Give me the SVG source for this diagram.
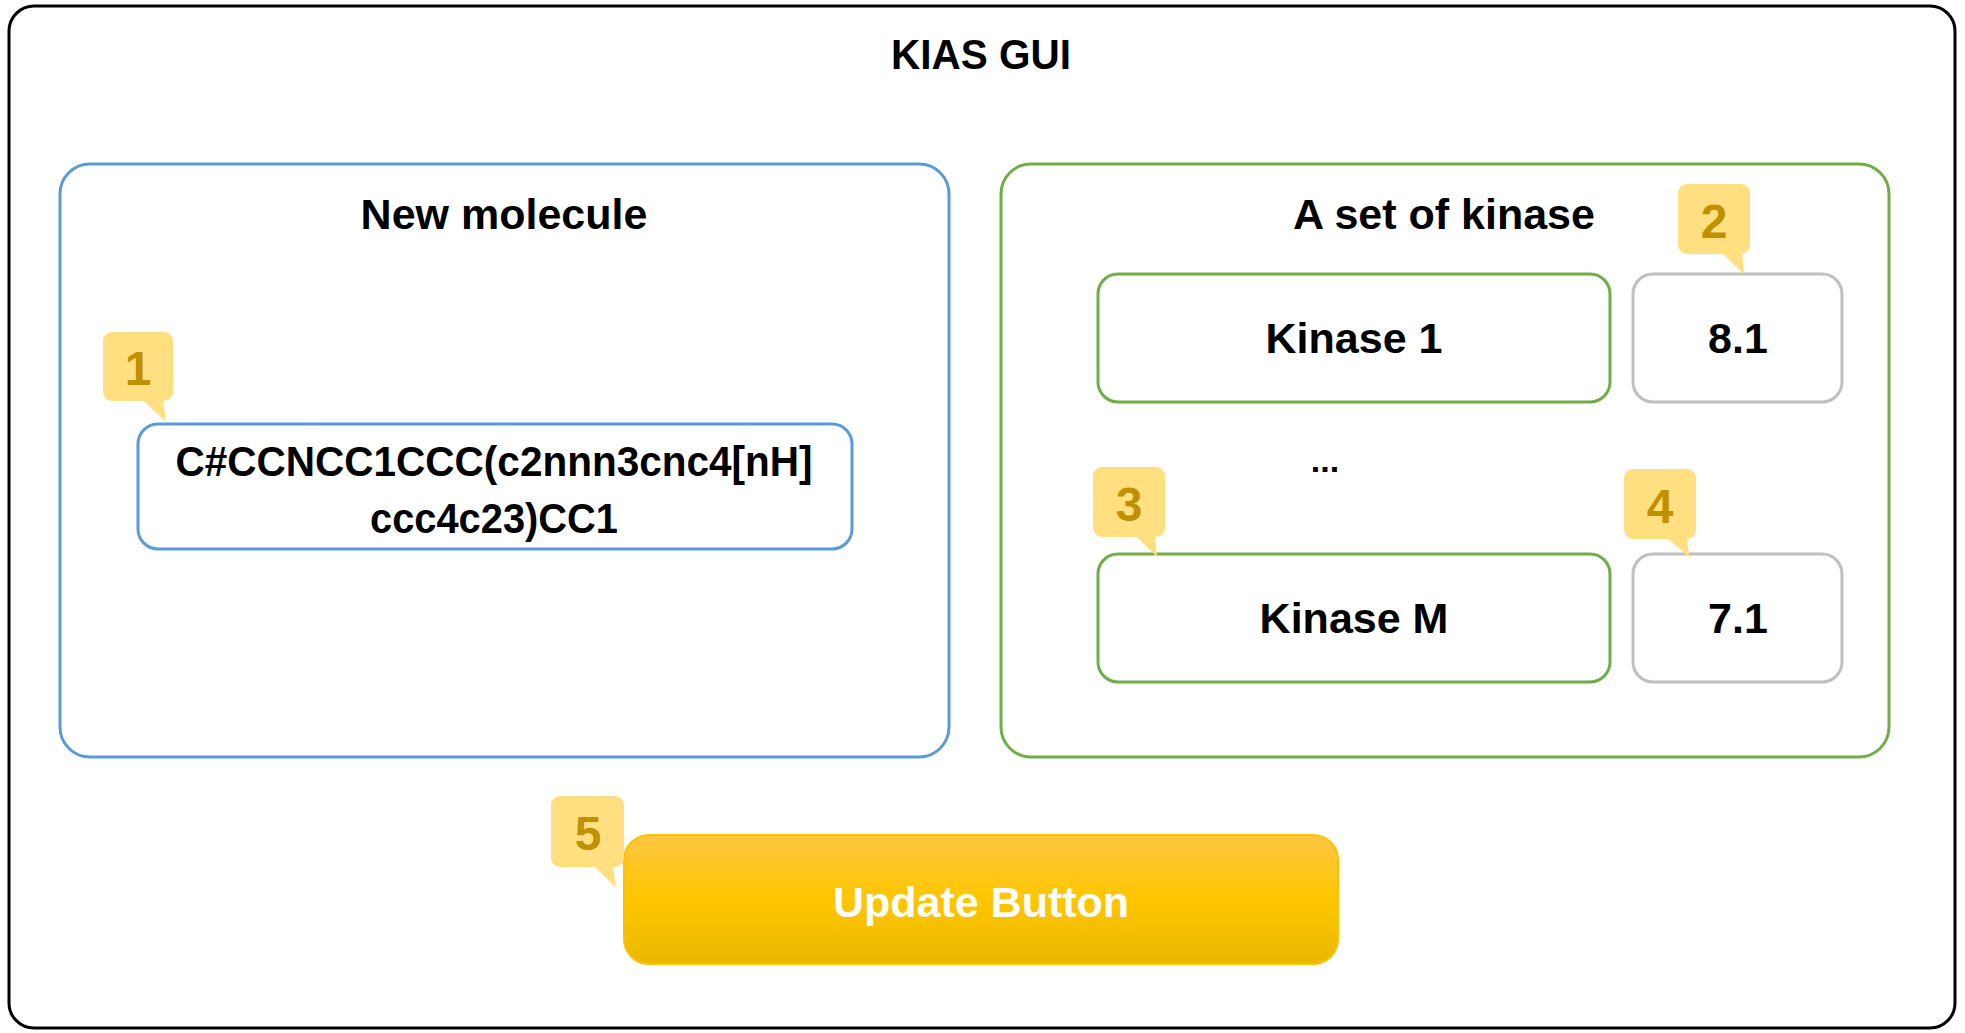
<svg xmlns="http://www.w3.org/2000/svg" width="1965" height="1033" viewBox="0 0 1965 1033">
<defs>
<linearGradient id="btnGrad" x1="0" y1="0" x2="0" y2="1">
<stop offset="0" stop-color="#FFC644"/>
<stop offset="0.5" stop-color="#FFC600"/>
<stop offset="1" stop-color="#E8B800"/>
</linearGradient>
<style>
text{font-family:"Liberation Sans",Arial,sans-serif;font-weight:bold;text-anchor:middle;fill:#000}
.lbl{font-size:43px}
.num{font-size:48px;fill:#BF9000}
.callout{fill:#FFDF80}
.blue{fill:#fff;stroke:#5B9BD5;stroke-width:3}
.green{fill:#fff;stroke:#70AD47;stroke-width:3}
.gray{fill:#fff;stroke:#BFBFBF;stroke-width:3}
</style>
</defs>
<rect width="1965" height="1033" fill="#fff"/>
<g id="outer">
<rect x="9" y="6" width="1946" height="1022" rx="25" fill="#fff" stroke="#000" stroke-width="3"/>
<text class="lbl" x="981" y="69" textLength="180" lengthAdjust="spacingAndGlyphs">KIAS GUI</text>
</g>
<g id="new-molecule">
<rect class="blue" x="60" y="164" width="889" height="593" rx="30"/>
<text class="lbl" x="504" y="229">New molecule</text>
</g>
<g id="smiles">
<rect class="blue" x="138" y="424" width="714" height="125" rx="20"/>
<text class="lbl" x="494" y="476" textLength="637" lengthAdjust="spacingAndGlyphs">C#CCNCC1CCC(c2nnn3cnc4[nH]</text>
<text class="lbl" x="494" y="533" textLength="248" lengthAdjust="spacingAndGlyphs">ccc4c23)CC1</text>
</g>
<g id="kinase-set">
<rect class="green" x="1001" y="164" width="888" height="593" rx="30"/>
<text class="lbl" x="1444" y="229">A set of kinase</text>
<text class="lbl" x="1325" y="472" style="font-size:34px">...</text>
</g>
<g id="kinase1">
<rect class="green" x="1098" y="274" width="512" height="128" rx="20"/>
<text class="lbl" x="1354" y="353">Kinase 1</text>
</g>
<g id="value1">
<rect class="gray" x="1633" y="274" width="209" height="128" rx="20"/>
<text class="lbl" x="1738" y="353">8.1</text>
</g>
<g id="kinaseM">
<rect class="green" x="1098" y="554" width="512" height="128" rx="20"/>
<text class="lbl" x="1354" y="633">Kinase M</text>
</g>
<g id="valueM">
<rect class="gray" x="1633" y="554" width="209" height="128" rx="20"/>
<text class="lbl" x="1738" y="633">7.1</text>
</g>
<g id="update-button">
<rect x="624" y="835" width="714" height="129" rx="25" fill="url(#btnGrad)" stroke="#FFC000" stroke-width="2"/>
<text class="lbl" x="981" y="917" style="fill:#fff">Update Button</text>
</g>
<g id="callout1">
<rect class="callout" x="103" y="332" width="70" height="69" rx="9"/>
<polygon class="callout" points="143,400 163,400 166,422"/>
<text class="num" x="138" y="385">1</text>
</g>
<g id="callout2">
<rect class="callout" x="1678" y="184" width="72" height="70" rx="9"/>
<polygon class="callout" points="1722,253 1742,253 1744,274"/>
<text class="num" x="1714" y="238">2</text>
</g>
<g id="callout3">
<rect class="callout" x="1093" y="467" width="72" height="70" rx="9"/>
<polygon class="callout" points="1136,536 1155,536 1157,557"/>
<text class="num" x="1129" y="521">3</text>
</g>
<g id="callout4">
<rect class="callout" x="1624" y="469" width="72" height="70" rx="9"/>
<polygon class="callout" points="1667,538 1687,538 1689,557"/>
<text class="num" x="1660" y="523">4</text>
</g>
<g id="callout5">
<rect class="callout" x="551" y="796" width="73" height="71" rx="9"/>
<polygon class="callout" points="594,866 613,866 616,888"/>
<text class="num" x="588" y="850">5</text>
</g>
<g id="connectors"></g>
</svg>
